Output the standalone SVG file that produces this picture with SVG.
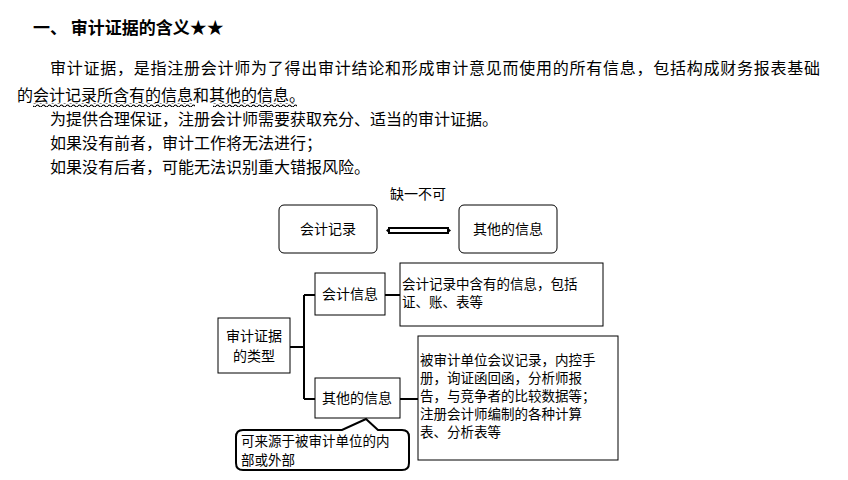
<svg xmlns="http://www.w3.org/2000/svg" width="848" height="480" viewBox="0 0 848 480">
<style>
text{font-family:"Noto Sans CJK SC","Liberation Sans",sans-serif;fill:#000}
.b{font-size:16px}
.d{font-size:14px}
.s{font-size:13.5px}
.box{fill:#fff;stroke:#000;stroke-width:1}
.ln{fill:none;stroke:#000;stroke-width:2}
.wav{fill:none;stroke:#000;stroke-width:1.2}
</style>
<rect width="848" height="480" fill="#fff"/>
<text x="33" y="34" font-size="17" font-weight="bold">一、 审计证据的含义★★</text>
<text class="b" x="50" y="74" textLength="770">审计证据，是指注册会计师为了得出审计结论和形成审计意见而使用的所有信息，包括构成财务报表基础</text>
<text class="b" x="17" y="101">的会计记录所含有的信息和其他的信息。</text>
<text class="b" x="50" y="125">为提供合理保证，注册会计师需要获取充分、适当的审计证据。</text>
<text class="b" x="50" y="149">如果没有前者，审计工作将无法进行；</text>
<text class="b" x="50" y="173">如果没有后者，可能无法识别重大错报风险。</text>
<defs><pattern id="wv" width="6" height="4" patternUnits="userSpaceOnUse"><path d="M0 2 Q1.5 0 3 2 T6 2" class="wav"/></pattern></defs>
<rect x="33" y="103" width="162" height="4" fill="url(#wv)"/>
<rect x="213" y="103" width="84" height="4" fill="url(#wv)"/>
<g id="connectors">
<path class="ln" d="M388 228H449M388 233H449"/>
<path d="M386 230.5L390 227V234Z M451 230.5L447 227V234Z"/>
<path class="ln" d="M290 347H304M304 295V399M304 295H315M304 399H315M385 295H400M400 399H418"/>
</g>
<text class="d" x="418" y="199" text-anchor="middle">缺一不可</text>
<g id="n1"><rect class="box" x="279" y="205" width="98" height="48" rx="5"/><text class="d" x="328" y="234" text-anchor="middle">会计记录</text></g>
<g id="n2"><rect class="box" x="459" y="205" width="98" height="48" rx="5"/><text class="d" x="508" y="234" text-anchor="middle">其他的信息</text></g>
<g id="n3"><rect class="box" x="218" y="318" width="72" height="55"/><text class="d" x="254" y="341" text-anchor="middle">审计证据</text><text class="d" x="254" y="361" text-anchor="middle">的类型</text></g>
<g id="n4"><rect class="box" x="315" y="273" width="70" height="42"/><text class="d" x="350" y="299" text-anchor="middle">会计信息</text></g>
<g id="n5"><rect class="box" x="400" y="263" width="203" height="63"/><text class="s" x="402" y="289">会计记录中含有的信息，包括</text><text class="s" x="402" y="307">证、账、表等</text></g>
<g id="n6"><rect class="box" x="315" y="378" width="85" height="40"/><text class="d" x="357" y="403" text-anchor="middle">其他的信息</text></g>
<g id="n7"><rect class="box" x="418" y="336" width="200" height="124"/>
<text class="s" x="420" y="365">被审计单位会议记录，内控手</text>
<text class="s" x="420" y="383">册，询证函回函，分析师报</text>
<text class="s" x="420" y="401">告，与竞争者的比较数据等；</text>
<text class="s" x="420" y="419">注册会计师编制的各种计算</text>
<text class="s" x="420" y="437">表、分析表等</text></g>
<g id="n8"><path d="M243 430H342L366 419L378 430H402Q409 430 409 437V463Q409 470 402 470H243Q236 470 236 463V437Q236 430 243 430Z" fill="#fff" stroke="#000" stroke-width="2"/>
<text class="s" x="241" y="446">可来源于被审计单位的内</text><text class="s" x="241" y="465">部或外部</text></g>
</svg>
